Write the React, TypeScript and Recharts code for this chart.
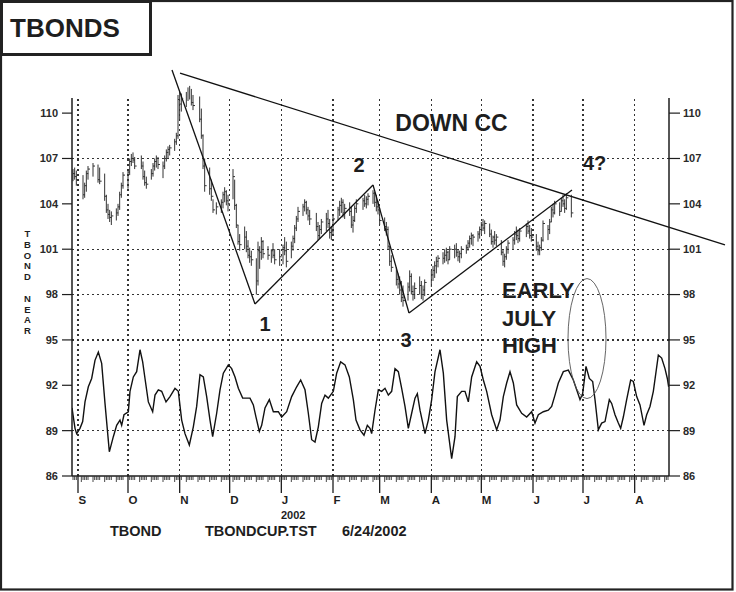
import React from 'react';
import { ComposedChart, XAxis, YAxis, Scatter, Line, ErrorBar, ReferenceLine, ReferenceDot } from 'recharts';

const FONT = '"Liberation Sans", Arial, Helvetica, sans-serif';
const INK = '#1e1e1e';

// x = calendar days since 1 Sep 2001
const xDomain: [number, number] = [-3.6, 354.6];
const yDomain: [number, number] = [86, 111];
const monthDays = [0, 30, 61, 91, 122, 153, 181, 212, 242, 273, 303, 334];
const monthLabels = ['S', 'O', 'N', 'D', 'J', 'F', 'M', 'A', 'M', 'J', 'J', 'A'];
const yTicks = [86, 89, 92, 95, 98, 101, 104, 107, 110];
const gridLevels = [89, 95, 98, 101, 107];

// daily T-bond bars (trading days)
const barDays = [
  -3, -2, -1,
  3, 4, 5, 6,
  9, 12, 13,
  16, 17, 18, 19, 20,
  23, 24, 25, 26, 27,
  30, 31, 32, 33, 34,
  38, 39, 40, 41,
  44, 45, 46, 47, 48,
  51, 52, 53, 54, 55,
  58, 59, 60, 61, 62,
  65, 66, 67, 68, 69,
  73, 74, 75, 76,
  79, 80, 81, 83,
  86, 87, 88, 89, 90,
  93, 94, 95, 96, 97,
  100, 101, 102, 103, 104,
  107, 108, 109, 110, 111,
  114, 116, 117, 118,
  121, 123, 124, 125,
  128, 129, 130, 131, 132,
  135, 136, 137, 138, 139,
  143, 144, 145, 146,
  149, 150, 151, 152, 153,
  156, 157, 158, 159, 160,
  163, 164, 165, 166, 167,
  171, 172, 173, 174,
  177, 178, 179, 180, 181,
  184, 185, 186, 187, 188,
  191, 192, 193, 194, 195,
  198, 199, 200, 201, 202,
  205, 206, 207, 208,
  212, 213, 214, 215, 216,
  219, 220, 221, 222, 223,
  226, 227, 228, 229, 230,
  233, 234, 235, 236, 237,
  240, 241, 242, 243, 244,
  247, 248, 249, 250, 251,
  254, 255, 256, 257, 258,
  261, 262, 263, 264, 265,
  269, 270, 271, 272,
  275, 276, 277, 278, 279,
  282, 283, 284, 285, 286,
  289, 290, 291, 292, 293,
  296,
];
const barHigh = [
  106.3, 106.4, 106.2,
  105.9, 105.4, 106.2, 106.5,
  106.7, 106.6, 106.4,
  106.0, 104.6, 104.0, 103.6, 103.5,
  103.7, 104.0, 104.8, 105.4, 106.1,
  106.3, 107.0, 107.3, 107.4, 107.1,
  107.2, 106.8, 106.2, 105.8,
  106.3, 106.7, 107.0, 107.2, 107.1,
  106.8, 107.2, 107.6, 107.8, 107.9,
  108.3, 108.7, 111.2, 111.4, 111.3,
  111.4, 111.7, 111.8, 111.6, 111.2,
  111.1, 110.3, 108.6, 107.0,
  106.4, 105.6, 104.3, 104.1,
  104.3, 104.8, 105.1, 104.9, 104.6,
  106.3, 105.6, 104.0, 102.6, 102.0,
  102.5, 102.2, 101.6, 101.1, 100.9,
  100.4, 101.5, 101.2, 101.8, 101.6,
  101.2, 101.0, 101.4, 101.0,
  101.0, 101.3, 101.8, 101.5,
  101.5, 101.9, 102.6, 103.2, 103.8,
  104.0, 104.3, 104.2, 103.8, 103.6,
  103.4, 102.8, 102.6, 103.0,
  103.4, 103.6, 103.0, 102.5, 103.2,
  103.8, 104.2, 104.4, 104.3, 104.0,
  104.1, 103.8, 103.2, 103.9, 104.3,
  104.4, 104.6, 104.5, 104.7,
  104.9, 104.8, 104.6, 104.2, 103.7,
  103.1, 102.8, 102.5, 101.2, 100.6,
  99.8, 99.4, 99.2, 98.9, 98.6,
  98.8, 99.6, 99.4, 98.6, 98.8,
  99.2, 98.9, 98.6, 99.0,
  99.6, 99.9, 100.2, 100.5, 100.6,
  100.8, 101.0, 101.1, 100.9, 101.2,
  101.3, 101.4, 101.0, 100.9, 101.2,
  101.3, 101.6, 101.9, 102.1, 102.0,
  102.2, 102.5, 102.8, 103.0, 102.9,
  102.7, 102.3, 101.9, 102.2, 102.0,
  101.6, 101.0, 100.7, 101.2, 101.6,
  101.8, 102.2, 102.5, 102.3, 102.4,
  102.7, 102.9, 102.6, 102.4,
  102.0, 101.5, 101.3, 101.8, 102.9,
  102.6, 103.0, 103.8, 104.0, 104.2,
  104.1, 104.4, 104.6, 104.3, 104.7,
  104.6,
];
const barLow = [
  105.5, 105.6, 105.2,
  104.3, 104.4, 104.8, 105.6,
  105.8, 105.4, 105.3,
  104.2, 103.4, 103.0, 102.8, 102.6,
  102.9, 103.2, 103.6, 104.4, 105.0,
  105.0, 105.9, 106.5, 106.7, 106.3,
  106.3, 105.6, 105.2, 105.0,
  105.6, 105.8, 106.2, 106.4, 106.3,
  105.7, 106.3, 106.8, 107.0, 107.2,
  107.5, 107.9, 108.3, 109.5, 110.1,
  110.4, 110.8, 110.9, 110.5, 110.2,
  109.4, 108.3, 106.3, 104.8,
  104.6, 104.2, 103.4, 103.3,
  103.4, 103.7, 104.1, 103.9, 103.5,
  104.3, 103.6, 102.4, 101.3, 100.9,
  101.0, 100.8, 100.4, 100.1, 99.9,
  98.0, 98.6, 99.7, 100.3, 100.4,
  100.3, 100.1, 100.4, 100.0,
  99.9, 100.0, 100.6, 99.8,
  100.4, 100.9, 101.4, 102.2, 102.8,
  103.2, 103.5, 103.3, 102.9, 102.6,
  102.2, 101.6, 101.7, 102.0,
  102.2, 102.4, 101.7, 101.6, 102.0,
  102.9, 103.2, 103.4, 103.1, 103.0,
  103.2, 102.4, 102.1, 102.8, 103.4,
  103.6, 103.8, 103.7, 103.9,
  104.0, 103.8, 103.5, 103.3, 102.6,
  102.2, 101.9, 101.0, 99.9, 99.5,
  98.6, 98.4, 98.0, 97.5, 97.2,
  97.6, 98.2, 98.0, 97.6, 97.7,
  98.0, 97.7, 97.6, 97.9,
  98.5, 98.9, 99.1, 99.4, 99.8,
  100.0, 100.1, 100.2, 100.0, 100.3,
  100.4, 100.5, 100.2, 100.1, 100.4,
  100.7, 100.9, 101.1, 101.3, 101.2,
  101.5, 101.7, 102.0, 102.2, 102.0,
  101.8, 101.3, 101.1, 101.3, 101.2,
  100.6, 99.9, 99.8, 100.3, 100.7,
  101.0, 101.3, 101.6, 101.4, 101.5,
  101.8, 102.0, 101.7, 101.5,
  100.9, 100.6, 100.6, 100.9, 101.5,
  101.6, 102.0, 102.8, 103.1, 103.3,
  103.2, 103.5, 103.8, 103.4, 103.6,
  103.1,
];
const barClose = [
  106.0, 105.8, 105.6,
  104.6, 105.2, 106.0, 106.3,
  106.5, 105.6, 105.5,
  104.5, 103.6, 103.3, 103.1, 103.2,
  103.4, 103.8, 104.6, 105.2, 105.9,
  106.1, 106.8, 107.0, 106.9, 106.5,
  106.5, 105.8, 105.4, 105.3,
  106.0, 106.5, 106.8, 107.0, 106.6,
  106.5, 107.0, 107.4, 107.6, 107.7,
  108.1, 108.5, 110.9, 110.6, 111.0,
  111.2, 111.4, 111.3, 110.7, 110.5,
  109.6, 108.5, 106.5, 105.2,
  105.0, 104.5, 103.6, 103.8,
  104.1, 104.6, 104.8, 104.2, 104.0,
  105.8, 103.9, 102.6, 101.5, 101.3,
  101.8, 101.2, 100.6, 100.5, 100.3,
  98.9, 100.9, 100.8, 101.5, 100.7,
  100.6, 100.9, 100.6, 100.3,
  100.5, 101.1, 100.9, 100.2,
  101.2, 101.7, 102.4, 103.0, 103.5,
  103.8, 104.1, 103.6, 103.2, 103.0,
  102.5, 101.9, 102.3, 102.8,
  103.0, 102.7, 102.1, 102.2, 103.0,
  103.6, 103.9, 104.1, 103.4, 103.7,
  103.5, 102.6, 102.9, 103.7, 104.0,
  104.2, 104.0, 104.3, 104.5,
  104.7, 104.1, 103.8, 103.6, 102.9,
  102.5, 102.3, 101.2, 100.2, 99.8,
  99.0, 98.7, 98.3, 97.8, 97.6,
  98.5, 99.2, 98.2, 98.0, 98.4,
  98.6, 98.0, 98.3, 98.8,
  99.3, 99.6, 99.9, 100.2, 100.4,
  100.4, 100.6, 100.8, 100.3, 101.0,
  101.0, 100.8, 100.5, 100.7, 101.0,
  101.1, 101.4, 101.7, 101.9, 101.8,
  102.0, 102.3, 102.6, 102.4, 102.7,
  102.0, 101.5, 101.8, 101.6, 101.8,
  100.8, 100.2, 100.5, 101.0, 101.4,
  101.6, 102.0, 101.9, 101.7, 102.2,
  102.5, 102.2, 101.9, 101.8,
  101.2, 100.9, 101.1, 101.6, 102.7,
  102.3, 102.8, 103.6, 103.4, 104.0,
  103.5, 104.2, 104.0, 103.7, 104.4,
  103.4,
];

// cycle projection line
const oscDays = [
  -3.6, -1.8, -0.8, 1.2, 2.8, 4.2, 6.2, 8.2, 10.2, 12.2,
  14.2, 16.2, 18.8, 21.2, 23.2, 25.2, 26.2, 27.6, 30.2, 31.2,
  33.2, 35.2, 37.2, 38.8, 40.2, 42.2, 44.8, 46.2, 48.2, 50.2,
  52.8, 55.2, 58.2, 60.2, 62.2, 64.2, 66.8, 69.2, 71.2, 73.2,
  75.2, 77.2, 79.2, 80.8, 83.2, 85.2, 87.2, 90.2, 92.2, 94.2,
  96.2, 98.8, 101.2, 103.2, 105.2, 106.8, 108.8, 110.2, 112.2, 114.8,
  117.2, 120.2, 122.2, 125.2, 128.2, 131.2, 133.6, 136.2, 138.2, 140.2,
  142.2, 144.2, 146.2, 148.2, 150.2, 153.2, 155.2, 157.6, 160.2, 162.8,
  165.2, 166.8, 169.2, 171.6, 173.6, 175.2, 176.2, 178.2, 180.2, 182.2,
  184.2, 186.2, 188.2, 190.2, 192.2, 194.2, 196.2, 198.2, 200.2, 202.2,
  203.6, 205.2, 208.2, 210.2, 212.2, 214.2, 217.2, 219.2, 221.2, 224.2,
  226.2, 227.6, 230.2, 232.2, 234.2, 236.2, 239.2, 241.2, 243.2, 245.2,
  248.2, 251.2, 253.2, 255.2, 257.2, 259.2, 261.2, 263.2, 266.2, 269.2,
  272.2, 274.2, 276.2, 279.2, 282.2, 284.2, 286.2, 288.2, 291.2, 294.2,
  297.2, 299.2, 301.2, 302.8, 304.8, 306.8, 308.8, 310.2, 312.2, 314.2,
  316.2, 318.8, 320.2, 322.2, 324.2, 325.6, 327.2, 329.2, 331.6, 333.2,
  335.2, 337.2, 339.6, 341.2, 343.2, 345.2, 348.2, 350.2, 352.2, 353.6,
  354.4,
];
const oscVals = [
  90.5, 89.15, 88.8, 89.15, 89.6, 90.9, 91.9, 92.45, 93.65, 94.2,
  93.45, 90.8, 87.6, 88.6, 89.35, 89.7, 89.35, 90.05, 90.25, 91.6,
  92.55, 92.9, 94.35, 93.55, 92.45, 90.9, 90.25, 91.35, 91.7, 91.6,
  90.9, 91.25, 91.8, 91.6, 89.7, 88.8, 88.05, 89.25, 90.6, 92.7,
  92.55, 91.25, 89.7, 88.6, 90.15, 91.7, 92.8, 93.35, 93.1, 92.55,
  91.8, 91.15, 91.15, 91.15, 90.7, 89.9, 88.95, 89.35, 90.5, 91.05,
  90.25, 90.25, 89.9, 90.25, 91.25, 91.9, 92.35, 91.7, 90.15, 88.4,
  88.25, 89.25, 90.8, 91.35, 91.15, 91.6, 92.8, 93.55, 93.35, 92.55,
  91.05, 89.7, 89.05, 88.7, 89.35, 89.15, 88.8, 90.35, 91.7, 91.6,
  91.8, 91.35, 91.6, 93.1, 92.9, 91.8, 90.6, 89.15, 90.15, 91.15,
  91.45, 90.35, 88.8, 89.7, 91.05, 92.9, 94.35, 92.8, 89.7, 87.15,
  88.6, 91.25, 91.6, 91.6, 90.9, 92.55, 93.55, 93.25, 92.35, 91.6,
  90.05, 89.05, 89.7, 91.25, 92.15, 92.9, 92.15, 90.7, 90.15, 89.9,
  90.25, 89.5, 90.05, 90.25, 90.35, 90.6, 91.35, 92.15, 92.9, 93.0,
  92.35, 91.7, 91.05, 91.45, 93.25, 92.45, 92.25, 91.05, 89.05, 89.5,
  89.6, 91.05, 90.8, 90.05, 89.5, 89.15, 89.9, 91.05, 92.35, 92.25,
  91.25, 90.7, 89.35, 90.05, 90.6, 91.6, 94.0, 93.8, 93.1, 92.45,
  91.9,
];

// hand-drawn wave lines (1-2-3-4) and down trendline
const waveX = [56.4, 106.2, 177.0, 198.6, 296.4];
const waveY = [112.85, 97.38, 105.25, 96.78, 104.92];
const ccX = [61.2, 388.2];
const ccY = [112.65, 101.28];

// annotations
const noteText = ['DOWN CC', '2', '4?', '1', '3', 'EARLY', 'JULY', 'HIGH'];
const noteX = [224.1, 168.6, 303, 112.2, 196.8, 254.4, 254.4, 254.4];
const noteY = [108.82, 106.1, 106.24, 95.59, 94.53, 97.77, 95.95, 94.13];
const noteSize = [23, 20, 20, 20, 20, 22, 22, 22];
const noteAnchor = ['middle', 'middle', 'start', 'middle', 'middle', 'start', 'start', 'start'];
const ellipseAt = { x: 305.4, y: 95.09 };

const axisTitle = 'TBOND NEAR';

const barData = barDays.map((d, i) => ({
  d,
  c: barClose[i],
  err: [barClose[i] - barLow[i], barHigh[i] - barClose[i]],
}));
const oscData = oscDays.map((d, i) => ({ d, v: oscVals[i] }));

const weekdayTicks: number[] = [];
for (let d = -3; d <= 354; d++) {
  const w = ((d % 7) + 7) % 7;
  if (w >= 2) weekdayTicks.push(d);
}
const xTicks = Array.from(new Set([...weekdayTicks, ...monthDays])).sort((a, b) => a - b);

const XTick = (props: any) => {
  const { x, y, payload } = props;
  const v = payload.value;
  const mi = monthDays.indexOf(v);
  if (mi >= 0) {
    return (
      <g>
        <line x1={x} x2={x} y1={y} y2={y + 17} stroke={INK} strokeWidth={1.3} />
        <text x={x + 0.5} y={y + 28} fontSize={11.5} fontWeight="bold" fill={INK} fontFamily={FONT}>
          {monthLabels[mi]}
        </text>
      </g>
    );
  }
  const w = ((v % 7) + 7) % 7;
  return <line x1={x} x2={x} y1={y} y2={y + (w === 2 ? 6 : 4)} stroke="#333" strokeWidth={0.9} />;
};

const CloseTick = (p: any) => (
  <line x1={p.cx} x2={p.cx + 2} y1={p.cy} y2={p.cy} stroke="#333" strokeWidth={1} />
);

const yTickStyle = { fontSize: 11, fontWeight: 'bold', fill: '#2a2a2a', fontFamily: FONT };

export default function App() {
  return (
    <div style={{ position: 'absolute', left: 0, top: 0, width: 736, height: 592, background: '#fff' }}>
      <ComposedChart width={736} height={592} margin={{ top: 98, right: 0, bottom: 96, left: 0 }}>
        <XAxis
          dataKey="d"
          type="number"
          domain={xDomain}
          allowDataOverflow
          ticks={xTicks}
          interval={0}
          tickSize={0}
          tickMargin={0}
          tickLine={false}
          height={20}
          axisLine={{ stroke: INK, strokeWidth: 1.5 }}
          tick={(p: any) => <XTick {...p} />}
        />
        <YAxis
          yAxisId="left"
          orientation="left"
          width={72}
          type="number"
          domain={yDomain}
          allowDataOverflow
          ticks={yTicks}
          interval={0}
          tickSize={10}
          tickMargin={4}
          tick={yTickStyle}
          axisLine={{ stroke: INK, strokeWidth: 1.5 }}
          tickLine={{ stroke: INK, strokeWidth: 1.2 }}
        />
        <YAxis
          yAxisId="right"
          orientation="right"
          width={67}
          type="number"
          domain={yDomain}
          allowDataOverflow
          ticks={yTicks}
          interval={0}
          tickSize={11}
          tickMargin={3}
          tick={yTickStyle}
          axisLine={{ stroke: INK, strokeWidth: 1.5 }}
          tickLine={{ stroke: INK, strokeWidth: 1.2 }}
        />
        {gridLevels.map((g) => (
          <ReferenceLine
            key={'h' + g}
            yAxisId="left"
            y={g}
            stroke="#333"
            strokeWidth={1.2}
            strokeDasharray="2 3"
            shapeRendering="crispEdges"
          />
        ))}
        {monthDays.map((m) => (
          <ReferenceLine
            key={'v' + m}
            yAxisId="left"
            x={m}
            stroke="#333"
            strokeWidth={1.2}
            strokeDasharray="2 3"
            shapeRendering="crispEdges"
          />
        ))}
        <Scatter
          data={barData}
          dataKey="c"
          yAxisId="left"
          shape={CloseTick}
          isAnimationActive={false}
        >
          <ErrorBar dataKey="err" direction="y" width={0} stroke="#333" strokeWidth={1} isAnimationActive={false} />
        </Scatter>
        <Line
          data={oscData}
          dataKey="v"
          yAxisId="left"
          type="linear"
          stroke="#111"
          strokeWidth={1.4}
          dot={false}
          activeDot={false}
          isAnimationActive={false}
        />
        {waveX.slice(0, -1).map((x, i) => (
          <ReferenceLine
            key={'w' + i}
            yAxisId="left"
            ifOverflow="visible"
            segment={[{ x, y: waveY[i] }, { x: waveX[i + 1], y: waveY[i + 1] }]}
            stroke="#111"
            strokeWidth={1.3}
          />
        ))}
        <ReferenceLine
          yAxisId="left"
          ifOverflow="visible"
          segment={[{ x: ccX[0], y: ccY[0] }, { x: ccX[1], y: ccY[1] }]}
          stroke="#111"
          strokeWidth={1.3}
        />
        <ReferenceDot
          yAxisId="left"
          x={ellipseAt.x}
          y={ellipseAt.y}
          ifOverflow="visible"
          shape={(p: any) => <ellipse cx={p.cx} cy={p.cy} rx={19} ry={60} fill="none" stroke="#555" strokeWidth={0.9} />}
        />
        {noteText.map((t, i) => (
          <ReferenceDot
            key={'n' + i}
            yAxisId="left"
            x={noteX[i]}
            y={noteY[i]}
            ifOverflow="visible"
            shape={(p: any) => (
              <text
                x={p.cx}
                y={p.cy}
                textAnchor={noteAnchor[i] as any}
                fontSize={noteSize[i]}
                fontWeight="bold"
                fill={INK}
                fontFamily={FONT}
              >
                {t}
              </text>
            )}
          />
        ))}
      </ComposedChart>
      <svg
        width={736}
        height={592}
        style={{ position: 'absolute', left: 0, top: 0, pointerEvents: 'none' }}
      >
        <rect x={1} y={1} width={731.5} height={588.5} fill="none" stroke="#222" strokeWidth={2.2} />
        <rect x={1.5} y={1.5} width={149} height={53} fill="none" stroke="#222" strokeWidth={3} />
        <text x={10} y={37} fontSize={26} fontWeight="bold" fill={INK} fontFamily={FONT}>
          TBONDS
        </text>
        <text x={281} y={519} fontSize={11} fontWeight="bold" fill={INK} fontFamily={FONT}>
          2002
        </text>
        <text x={110} y={536} fontSize={14.5} fontWeight="bold" fill={INK} fontFamily={FONT}>
          TBOND
        </text>
        <text x={205} y={536} fontSize={14.5} fontWeight="bold" fill={INK} fontFamily={FONT}>
          TBONDCUP.TST
        </text>
        <text x={342} y={536} fontSize={14.5} fontWeight="bold" fill={INK} fontFamily={FONT}>
          6/24/2002
        </text>
      </svg>
      <div
        style={{
          position: 'absolute',
          left: 22,
          top: 228,
          width: 10,
          lineHeight: '10px',
          writingMode: 'vertical-rl',
          textOrientation: 'upright',
          fontFamily: FONT,
          fontWeight: 'bold',
          fontSize: 9.5,
          letterSpacing: '-0.2px',
          color: INK,
          whiteSpace: 'pre',
        }}
      >
        {axisTitle}
      </div>
    </div>
  );
}
